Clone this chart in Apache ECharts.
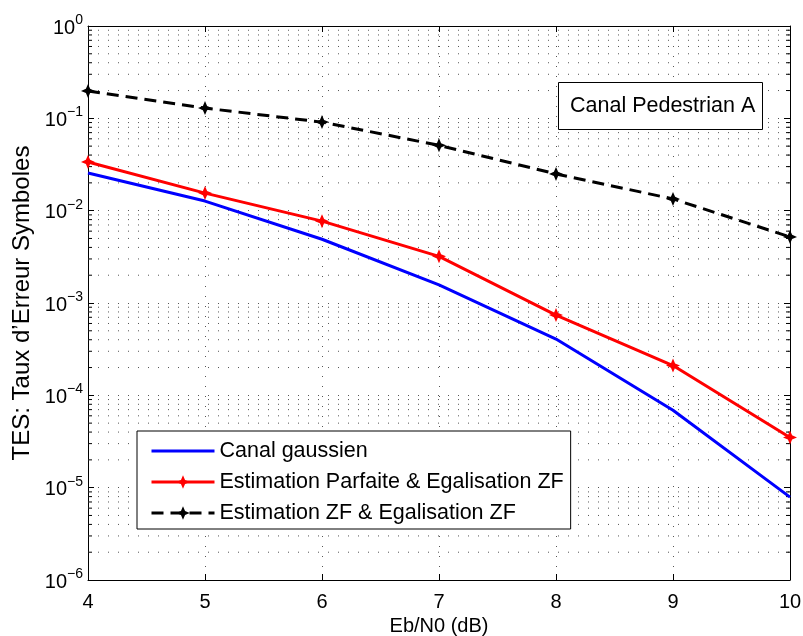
<!DOCTYPE html>
<html>
<head>
<meta charset="utf-8">
<script src="https://cdn.jsdelivr.net/npm/echarts@6/dist/echarts.min.js"></script>
<style>
  html, body { margin: 0; padding: 0; background: #fff; }
  #chart { width: 803px; height: 636px; }
</style>
</head>
<body>
<div id="chart"></div>
<script>
var ebn0 = [4, 5, 6, 7, 8, 9, 10];
var canalGaussien = [0.0256, 0.0127, 0.0049, 0.00157, 0.000407, 0.000069, 0.0000079];
var estimParfaite = [0.0337, 0.0155, 0.0077, 0.0032, 0.00074, 0.00021, 0.000035];
var estimZF = [0.198, 0.129, 0.091, 0.051, 0.025, 0.0134, 0.0052];
var seriesNames = ['Canal gaussien', 'Estimation Parfaite & Egalisation ZF', 'Estimation ZF & Egalisation ZF'];
var decades = [-6, -5, -4, -3, -2, -1];
var minorSteps = [2, 3, 4, 5, 6, 7, 8, 9];

var FONT = 'Liberation Sans, Arial, sans-serif';
var starSymbol = 'path://M0,-6 L1.8,-1.8 L6,0 L1.8,1.8 L0,6 L-1.8,1.8 L-6,0 L-1.8,-1.8 Z';

function pairs(ys) {
  return ebn0.map(function (x, i) { return [x, ys[i]]; });
}

// minor log grid values 2..9 x 10^d
var minorVals = [];
decades.forEach(function (d) {
  minorSteps.forEach(function (k) {
    minorVals.push([4, k * Math.pow(10, d)]);
  });
});

var chart = echarts.init(document.getElementById('chart'));

var dotted = { color: '#555', width: 1, type: [1, 9] };

var option = {
  animation: false,
  backgroundColor: '#fff',
  textStyle: { fontFamily: FONT },
  grid: { left: 88, right: 13, top: 26, bottom: 56, outerBoundsMode: 'none', containLabel: false },
  title: {
    text: 'Canal Pedestrian A',
    left: 558,
    top: 82,
    padding: [13, 8, 13, 12],
    borderColor: '#000',
    borderWidth: 1,
    backgroundColor: '#fff',
    textStyle: { fontFamily: FONT, fontSize: 21.5, lineHeight: 22, fontWeight: 'normal', color: '#000' }
  },
  legend: {
    data: [
      { name: seriesNames[0], itemStyle: { opacity: 0 } },
      { name: seriesNames[1] },
      { name: seriesNames[2] }
    ],
    orient: 'vertical',
    left: 137,
    top: 431,
    padding: [9, 7, 5, 13],
    itemWidth: 63,
    itemHeight: 17,
    itemGap: 9,
    backgroundColor: '#fff',
    borderColor: '#000',
    borderWidth: 1,
    borderRadius: 0,
    lineStyle: { width: 3 },
    textStyle: { fontFamily: FONT, fontSize: 21.5, lineHeight: 21, color: '#000' }
  },
  xAxis: [{
    type: 'value',
    min: 4,
    max: 10,
    interval: 1,
    name: 'Eb/N0 (dB)',
    nameLocation: 'middle',
    nameGap: 28,
    nameTextStyle: { fontFamily: FONT, fontSize: 20, color: '#000', verticalAlign: 'top' },
    axisLine: { lineStyle: { color: '#000', width: 1 } },
    axisTick: { inside: true, length: 6, lineStyle: { color: '#000' } },
    axisLabel: { fontFamily: FONT, fontSize: 20, color: '#000', margin: 12 },
    splitLine: { show: true, lineStyle: dotted }
  }, {
    type: 'value',
    position: 'top',
    min: 4,
    max: 10,
    interval: 1,
    axisLine: { show: true, lineStyle: { color: '#000', width: 1 } },
    axisTick: { show: true, inside: true, length: 6, lineStyle: { color: '#000' } },
    axisLabel: { show: false },
    splitLine: { show: false }
  }],
  yAxis: [{
    type: 'log',
    logBase: 10,
    min: 1e-6,
    max: 1,
    name: 'TES: Taux d\u2019Erreur Symboles',
    nameLocation: 'middle',
    nameGap: 52,
    nameTextStyle: { fontFamily: FONT, fontSize: 24, color: '#000' },
    axisLine: { show: true, lineStyle: { color: '#000', width: 1 } },
    axisTick: { show: true, inside: true, length: 6, lineStyle: { color: '#000' } },
    axisLabel: {
      margin: 5,
      formatter: function (v) {
        var e = Math.round(Math.log(v) / Math.LN10);
        var es = e < 0 ? '\u2212' + (-e) : String(e);
        return '{b|10}{s|' + es + '}';
      },
      rich: {
        b: { fontFamily: FONT, fontSize: 20, color: '#000', padding: [4, 0, 0, 0] },
        s: { fontFamily: FONT, fontSize: 14, color: '#000', padding: [0, 0, 12, 0] }
      }
    },
    splitLine: { show: true, lineStyle: dotted }
  }, {
    type: 'log',
    logBase: 10,
    min: 1e-6,
    max: 1,
    position: 'right',
    axisLine: { show: true, lineStyle: { color: '#000', width: 1 } },
    axisTick: { show: true, inside: true, length: 6, lineStyle: { color: '#000' } },
    axisLabel: { show: false },
    splitLine: { show: false }
  }],
  series: [
    {
      name: 'minorGrid',
      type: 'custom',
      silent: true,
      z: 1,
      data: minorVals,
      renderItem: function (params, api) {
        var v = api.value(1);
        var p1 = api.coord([4, v]);
        var p2 = api.coord([10, v]);
        return {
          type: 'group',
          children: [
            { type: 'line', shape: { x1: p1[0], y1: p1[1], x2: p2[0], y2: p2[1] },
              style: { stroke: '#555', lineWidth: 1, lineDash: [1, 9] } },
            { type: 'line', shape: { x1: p1[0], y1: p1[1], x2: p1[0] + 4, y2: p1[1] },
              style: { stroke: '#000', lineWidth: 1 } },
            { type: 'line', shape: { x1: p2[0] - 4, y1: p2[1], x2: p2[0], y2: p2[1] },
              style: { stroke: '#000', lineWidth: 1 } }
          ]
        };
      }
    },
    {
      name: seriesNames[0],
      type: 'line',
      data: pairs(canalGaussien),
      symbol: 'none',
      z: 3,
      lineStyle: { color: '#0000ff', width: 3 },
      itemStyle: { color: '#0000ff' }
    },
    {
      name: seriesNames[1],
      type: 'line',
      data: pairs(estimParfaite),
      symbol: starSymbol,
      symbolSize: 14,
      z: 4,
      lineStyle: { color: '#ff0000', width: 3 },
      itemStyle: { color: '#ff0000' }
    },
    {
      name: seriesNames[2],
      type: 'line',
      data: pairs(estimZF),
      symbol: starSymbol,
      symbolSize: 14,
      z: 4,
      lineStyle: { color: '#000', width: 3, type: [12, 7] },
      itemStyle: { color: '#000' }
    }
  ]
};

chart.setOption(option);
</script>
</body>
</html>
